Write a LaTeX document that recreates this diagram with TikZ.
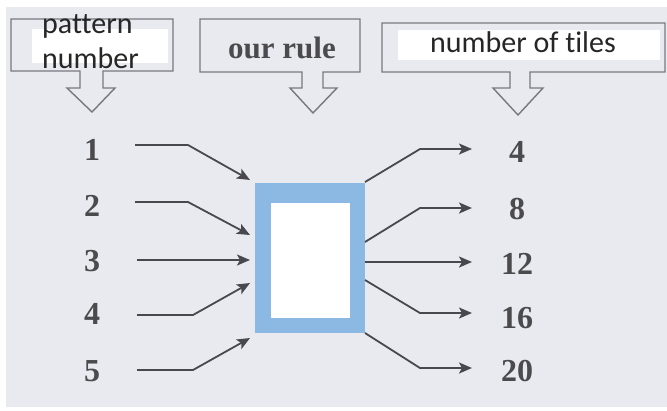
\documentclass[tikz,border=0pt]{standalone}
\usepackage{fontspec}
\usetikzlibrary{arrows.meta}
\newfontfamily\calfont[Ligatures=NoCommon]{Carlito}
\newfontfamily\serfont{Liberation Serif}
\definecolor{bg}{RGB}{233,233,240}
\definecolor{boxline}{RGB}{120,120,125}
\definecolor{arrline}{RGB}{72,72,78}
\definecolor{numcol}{RGB}{75,75,78}
\definecolor{ruleblue}{RGB}{139,185,227}
\begin{document}
\begin{tikzpicture}[x=1pt,y=-1pt,
  callout/.style={draw=boxline,line width=1.4pt,line join=miter},
  lbl/.style={font=\calfont\fontsize{30}{30}\selectfont,text=black!85,inner sep=0pt,anchor=base west},
  num/.style={font=\serfont\bfseries\fontsize{32}{32}\selectfont,text=numcol,inner sep=0pt,anchor=base},
  conn/.style={draw=arrline,line width=1.8pt,-{Stealth[length=13pt,width=11pt,inset=3pt]}}]
\useasboundingbox (0,0) rectangle (667,410);
\fill[white] (0,0) rectangle (667,410);
\fill[bg] (6,7) rectangle (667,407);
% callout boxes
\fill[white] (32,29) rectangle (168,63);
\draw[callout] (80,71) -- (11,71) -- (11,19) -- (173,19) -- (173,71) -- (103,71) -- (103,88) -- (115,88) -- (92,112) -- (67,88) -- (80,88) -- cycle;
\draw[callout] (302,72) -- (200,72) -- (200,19) -- (360,19) -- (360,72) -- (323,72) -- (323,88) -- (337,88) -- (313,113) -- (290,88) -- (302,88) -- cycle;
\fill[white] (398,30) rectangle (660,60);
\draw[callout] (510,72) -- (382,72) -- (382,23) -- (665,23) -- (665,72) -- (530,72) -- (530,88) -- (543,88) -- (518,115) -- (493,88) -- (510,88) -- cycle;
\node[lbl] (pat) at (42,33) {pattern};
\node[lbl] (patn) at (42,68) {number};
\node[font=\serfont\bfseries\fontsize{31}{31}\selectfont,text=numcol,inner sep=0pt,anchor=base] (rule) at (282,58) {our rule};
\node[font=\calfont\fontsize{30}{30}\selectfont,text=black!85,inner sep=0pt,anchor=base] (tiles) at (523,52) {number of tiles};
% rule box
\node[fill=ruleblue,minimum width=110pt,minimum height=150pt,inner sep=0pt,anchor=north west] (box) at (255,183) {};
\fill[white] (271,203) rectangle (350,318);
% left numbers
\node[num] (n1) at (92,160) {1};
\node[num] (n2) at (92,216) {2};
\node[num] (n3) at (92,271) {3};
\node[num] (n4) at (92,324) {4};
\node[num] (n5) at (92,381) {5};
% right numbers
\node[num] (m1) at (517,162) {4};
\node[num] (m2) at (517,219) {8};
\node[num] (m3) at (517,274) {12};
\node[num] (m4) at (517,328) {16};
\node[num] (m5) at (517,381) {20};
% left connector coordinates
\coordinate (a1) at (135,145); \coordinate (b1) at (188,145); \coordinate (c1) at (250,180);
\coordinate (a2) at (135,202); \coordinate (b2) at (188,202); \coordinate (c2) at (250,235);
\coordinate (a3) at (137,260); \coordinate (c3) at (250,260);
\coordinate (a4) at (137,315); \coordinate (b4) at (193,315); \coordinate (c4) at (250,283);
\coordinate (a5) at (137,370); \coordinate (b5) at (193,370); \coordinate (c5) at (250,338);
\draw[conn] (a1) -- (b1) -- (c1);
\draw[conn] (a2) -- (b2) -- (c2);
\draw[conn] (a3) -- (c3);
\draw[conn] (a4) -- (b4) -- (c4);
\draw[conn] (a5) -- (b5) -- (c5);
% right connector coordinates
\coordinate (d1) at (365,182); \coordinate (e1) at (420,149); \coordinate (f1) at (472,149);
\coordinate (d2) at (365,242); \coordinate (e2) at (420,208); \coordinate (f2) at (472,208);
\coordinate (d3) at (365,262); \coordinate (f3) at (472,262);
\coordinate (d4) at (365,280); \coordinate (e4) at (420,313); \coordinate (f4) at (472,313);
\coordinate (d5) at (365,333); \coordinate (e5) at (420,368); \coordinate (f5) at (472,368);
\draw[conn] (d1) -- (e1) -- (f1);
\draw[conn] (d2) -- (e2) -- (f2);
\draw[conn] (d3) -- (f3);
\draw[conn] (d4) -- (e4) -- (f4);
\draw[conn] (d5) -- (e5) -- (f5);
\end{tikzpicture}
\end{document}
